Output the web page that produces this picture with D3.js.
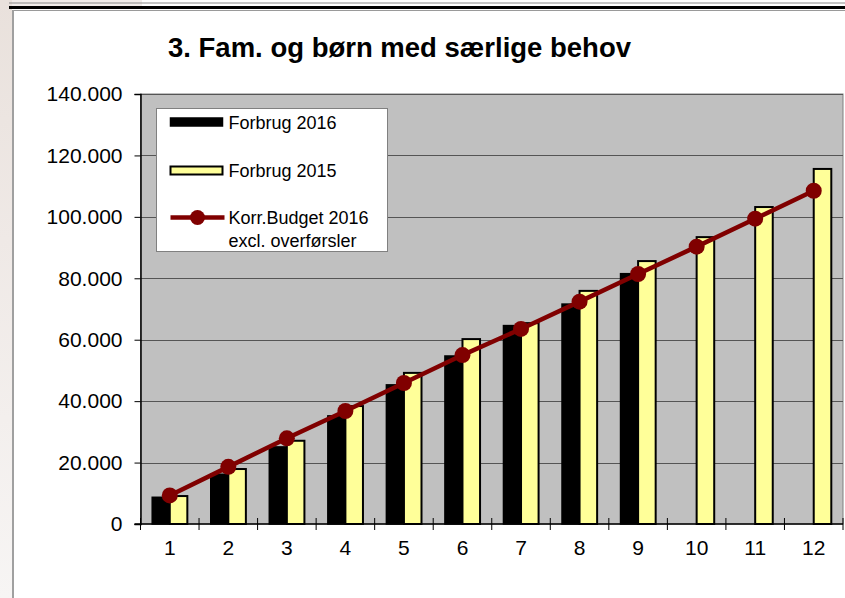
<!DOCTYPE html>
<html>
<head>
<meta charset="utf-8">
<script src="https://cdn.jsdelivr.net/npm/d3@7"></script>
<style>
  html, body { margin: 0; padding: 0; background: #fff; }
  svg { display: block; font-family: "Liberation Sans", Arial, sans-serif; }
</style>
</head>
<body>
<div id="chart"></div>
<script>
// --- data ---
const months = ["1", "2", "3", "4", "5", "6", "7", "8", "9", "10", "11", "12"];
const forbrug2016 = [8700, 16200, 25100, 35200, 45300, 54700, 64600, 71600, 81500];
const forbrug2015 = [9100, 17900, 27100, 38400, 49200, 60200, 65400, 75900, 85600, 93400, 103200, 115600];
const budget2016 = [9300, 18600, 27900, 36800, 45900, 55000, 63500, 72400, 81400, 90300, 99400, 108500];
const yTicks = [0, 20000, 40000, 60000, 80000, 100000, 120000, 140000];

const W = 845, H = 598;
const plot = { left: 140.5, right: 843, top: 94, bottom: 524 };

const svg = d3.select("#chart").append("svg").attr("width", W).attr("height", H);

// page frame: textured strip on the left, double rule at the top
const grad = svg.append("defs").append("linearGradient").attr("id", "strip")
    .attr("x1", 0).attr("y1", 0).attr("x2", 0).attr("y2", 1);
grad.append("stop").attr("offset", "0%").attr("stop-color", "#e9e1dc");
grad.append("stop").attr("offset", "40%").attr("stop-color", "#efe9e6");
grad.append("stop").attr("offset", "100%").attr("stop-color", "#f7f5f4");
svg.append("rect").attr("x", 0).attr("y", 0).attr("width", 12).attr("height", H).attr("fill", "url(#strip)");
svg.append("rect").attr("x", 12).attr("y", 0).attr("width", 130).attr("height", 7).attr("fill", "#f1ecea");
svg.append("line").attr("x1", 9).attr("x2", W).attr("y1", 3).attr("y2", 3).attr("stroke", "#8a8a8a").attr("stroke-width", 1);
svg.append("line").attr("x1", 9).attr("x2", W).attr("y1", 7.5).attr("y2", 7.5).attr("stroke", "#000").attr("stroke-width", 3);
svg.append("line").attr("x1", 13).attr("x2", W).attr("y1", 10.5).attr("y2", 10.5).attr("stroke", "#9a9a9a").attr("stroke-width", 1);
svg.append("line").attr("x1", 13).attr("x2", 13).attr("y1", 10).attr("y2", H).attr("stroke", "#a0a0a0").attr("stroke-width", 2);

// title
svg.append("text").attr("x", 168).attr("y", 57)
    .attr("font-size", 27.5).attr("font-weight", "bold").attr("fill", "#000")
    .text("3. Fam. og børn med særlige behov");

// scales
const x = d3.scaleBand().domain(months).range([plot.left, plot.right]).paddingInner(0.4).paddingOuter(0.2);
const xs = d3.scaleBand().domain(["2016", "2015"]).range([0, x.bandwidth()]);
const y = d3.scaleLinear().domain([0, 140000]).range([plot.bottom, plot.top]);
const step = x.step();

// plot area
svg.append("rect").attr("x", plot.left).attr("y", plot.top)
    .attr("width", plot.right - plot.left).attr("height", plot.bottom - plot.top)
    .attr("fill", "#c0c0c0").attr("stroke", "#808080").attr("stroke-width", 1);

svg.append("g").selectAll("line").data(yTicks.slice(1)).join("line")
    .attr("x1", plot.left).attr("x2", plot.right)
    .attr("y1", d => Math.round(y(d)) + 0.5).attr("y2", d => Math.round(y(d)) + 0.5)
    .attr("stroke", "#555").attr("stroke-width", 1);

// bars
svg.append("g").selectAll("rect").data(forbrug2016).join("rect")
    .attr("x", (d, i) => x(months[i]) + xs("2016"))
    .attr("y", d => y(d))
    .attr("width", xs.bandwidth())
    .attr("height", d => y(0) - y(d))
    .attr("fill", "#000").attr("stroke", "#000").attr("stroke-width", 1.5);

svg.append("g").selectAll("rect").data(forbrug2015).join("rect")
    .attr("x", (d, i) => x(months[i]) + xs("2015"))
    .attr("y", d => y(d))
    .attr("width", xs.bandwidth())
    .attr("height", d => y(0) - y(d))
    .attr("fill", "#ffff99").attr("stroke", "#000").attr("stroke-width", 2);

// budget line
const cx = (d, i) => x(months[i]) + x.bandwidth() / 2;
svg.append("path").datum(budget2016)
    .attr("d", d3.line().x(cx).y(d => y(d)))
    .attr("fill", "none").attr("stroke", "#800000").attr("stroke-width", 4.5);
svg.append("g").selectAll("circle").data(budget2016).join("circle")
    .attr("cx", cx).attr("cy", d => y(d)).attr("r", 8)
    .attr("fill", "#800000");

// axes
const yAxis = svg.append("g").attr("transform", `translate(${plot.left},0)`)
    .call(d3.axisLeft(y).tickValues(yTicks).tickSize(6).tickPadding(12)
        .tickFormat(d => d === 0 ? "0" : d3.format(",")(d).replace(/,/g, ".")));
yAxis.select(".domain").attr("stroke", "#000").attr("stroke-width", 1.5);
yAxis.selectAll("text").attr("font-size", 21).attr("fill", "#000").attr("font-family", "Liberation Sans, Arial, sans-serif");

const xAxis = svg.append("g").attr("transform", `translate(0,${plot.bottom})`)
    .call(d3.axisBottom(x).tickSize(0).tickPadding(16));
xAxis.select(".domain").remove();
xAxis.selectAll("text").attr("font-size", 21).attr("fill", "#000").attr("font-family", "Liberation Sans, Arial, sans-serif");
svg.append("line").attr("x1", plot.left - 6).attr("x2", plot.right)
    .attr("y1", plot.bottom).attr("y2", plot.bottom).attr("stroke", "#000").attr("stroke-width", 1.5);
svg.append("g").selectAll("line").data(d3.range(months.length + 1)).join("line")
    .attr("x1", i => plot.left + i * step).attr("x2", i => plot.left + i * step)
    .attr("y1", plot.bottom - 6).attr("y2", plot.bottom + 6)
    .attr("stroke", "#000").attr("stroke-width", 1);

// legend
const lg = svg.append("g").attr("transform", "translate(156.5,108.5)");
lg.append("rect").attr("width", 231).attr("height", 143).attr("fill", "#fff").attr("stroke", "#808080").attr("stroke-width", 1);
lg.append("rect").attr("x", 14).attr("y", 9.5).attr("width", 52).attr("height", 8).attr("fill", "#000").attr("stroke", "#000").attr("stroke-width", 1.5);
lg.append("rect").attr("x", 14).attr("y", 58).attr("width", 52).attr("height", 8).attr("fill", "#ffff99").attr("stroke", "#000").attr("stroke-width", 2);
lg.append("line").attr("x1", 14).attr("x2", 68).attr("y1", 109).attr("y2", 109).attr("stroke", "#800000").attr("stroke-width", 4.5);
lg.append("circle").attr("cx", 41).attr("cy", 109).attr("r", 7.5).attr("fill", "#800000");
const legendText = [["Forbrug 2016", 20], ["Forbrug 2015", 68], ["Korr.Budget 2016", 115], ["excl. overførsler", 138]];
lg.selectAll("text.lt").data(legendText).join("text").attr("class", "lt")
    .attr("x", 72).attr("y", d => d[1]).attr("font-size", 18).attr("fill", "#000").text(d => d[0]);
</script>
</body>
</html>
